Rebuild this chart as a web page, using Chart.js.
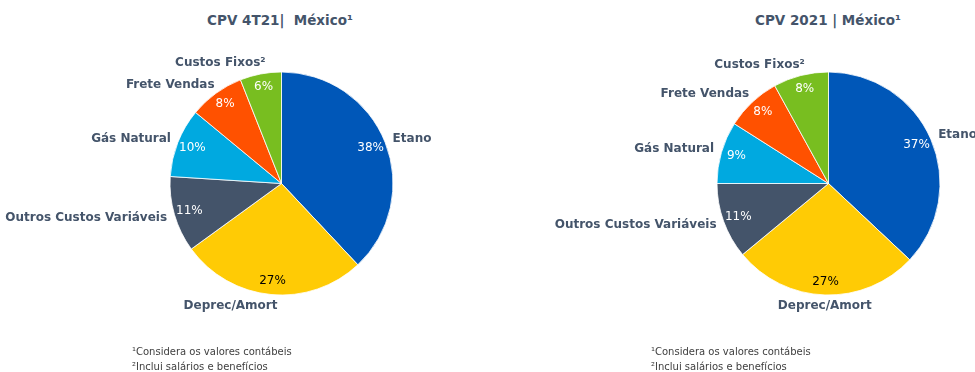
<!DOCTYPE html>
<html>
<head>
<meta charset="utf-8">
<script src="https://cdn.jsdelivr.net/npm/chart.js@4"></script>
<style>
  body { margin: 0; background: #fff; width: 975px; height: 372px; position: relative; overflow: hidden; font-family: "DejaVu Sans", sans-serif; }
  canvas { position: absolute; top: 0; }
  .titulo { position: absolute; top: 12px; font-weight: bold; font-size: 13.5px; color: #44546A; white-space: nowrap; transform: translateX(-50%); }
  .nota { position: absolute; top: 344px; font-size: 10px; line-height: 15px; color: #404040; white-space: nowrap; }
</style>
</head>
<body>
<div class="titulo" style="left:280px">CPV 4T21|&nbsp; México¹</div>
<div class="titulo" style="left:828px">CPV 2021 | México¹</div>
<canvas id="pie4T21" width="487" height="372" style="left:0"></canvas>
<canvas id="pie2021" width="488" height="372" style="left:487px"></canvas>
<div class="nota" style="left:132px">¹Considera os valores contábeis<br>²Inclui salários e benefícios</div>
<div class="nota" style="left:651px">¹Considera os valores contábeis<br>²Inclui salários e benefícios</div>
<script>
const categorias = ['Etano', 'Deprec/Amort', 'Outros Custos Variáveis', 'Gás Natural', 'Frete Vendas', 'Custos Fixos²'];
const cpv4T21 = [38, 27, 11, 10, 8, 6];
const cpv2021 = [37, 27, 11, 9, 8, 8];
const cores = ['#0057B8', '#FFCB05', '#44546A', '#00A9E0', '#FF5100', '#78BE20'];
const corPct = ['#fff', '#000', '#fff', '#fff', '#fff', '#fff'];

// rotulos: % dentro da fatia, categoria fora
const rotulosPizza = {
  id: 'rotulosPizza',
  afterDraw(chart) {
    const ctx = chart.ctx;
    const meta = chart.getDatasetMeta(0);
    const valores = chart.data.datasets[0].data;
    ctx.save();
    meta.data.forEach((arc, i) => {
      const meio = (arc.startAngle + arc.endAngle) / 2;
      const c = Math.cos(meio), s = Math.sin(meio);
      const r = arc.outerRadius;

      ctx.font = '12px "DejaVu Sans"';
      ctx.fillStyle = corPct[i];
      ctx.textAlign = 'center';
      ctx.textBaseline = 'middle';
      ctx.fillText(valores[i] + '%', arc.x + c * r * 0.86, arc.y + s * r * 0.88);

      ctx.font = 'bold 12px "DejaVu Sans"';
      ctx.fillStyle = '#44546A';
      let x = arc.x + c * (r + 8);
      if (c > 0.05) {
        ctx.textAlign = 'left';
      } else if (c < -0.05) {
        ctx.textAlign = 'right';
        x += (1 + c) * 8; // aproxima do topo/base da pizza
      } else {
        ctx.textAlign = 'center';
      }
      ctx.fillText(chart.data.labels[i], x, arc.y + s * (r + 11));
    });
    ctx.restore();
  }
};

function pizza(id, dados, padLeft, padRight) {
  return new Chart(document.getElementById(id), {
    type: 'pie',
    data: {
      labels: categorias,
      datasets: [{
        data: dados,
        backgroundColor: cores,
        borderColor: '#ffffff',
        borderWidth: 0.8,
        radius: 111.5
      }]
    },
    options: {
      responsive: false,
      animation: false,
      layout: { padding: { left: padLeft, right: padRight, top: 72, bottom: 77 } },
      plugins: { legend: { display: false }, tooltip: { enabled: false } }
    },
    plugins: [rotulosPizza]
  });
}

pizza('pie4T21', cpv4T21, 170, 94);
pizza('pie2021', cpv2021, 230, 35);
</script>
</body>
</html>
